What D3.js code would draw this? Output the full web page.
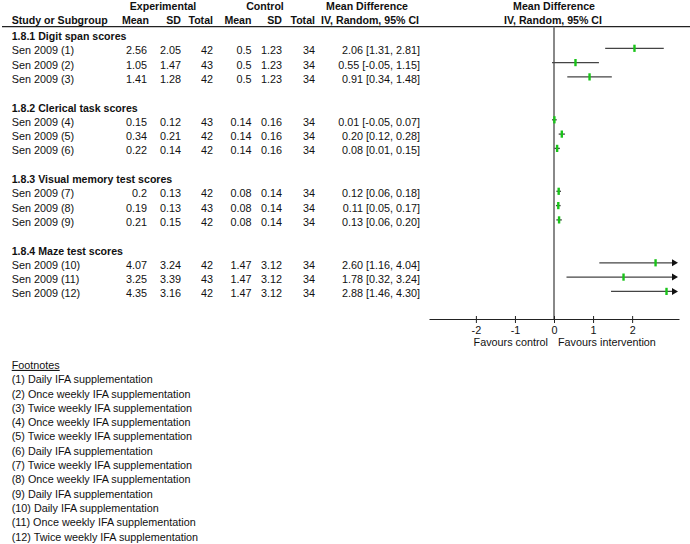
<!DOCTYPE html>
<html>
<head>
<meta charset="utf-8">
<script src="https://cdn.jsdelivr.net/npm/d3@7"></script>
<style>
  html, body { margin: 0; padding: 0; background: #fff; }
  svg { display: block; }
  text { font-family: "Liberation Sans", Arial, sans-serif; fill: #111; }
</style>
</head>
<body>
<svg id="chart" width="690" height="544"></svg>
<script>
// ---------------- data ----------------
const groups = ["1.8.1 Digit span scores", "1.8.2 Clerical task scores", "1.8.3 Visual memory test scores", "1.8.4 Maze test scores"];
const studies = ["Sen 2009 (1)", "Sen 2009 (2)", "Sen 2009 (3)", "Sen 2009 (4)", "Sen 2009 (5)", "Sen 2009 (6)",
                 "Sen 2009 (7)", "Sen 2009 (8)", "Sen 2009 (9)", "Sen 2009 (10)", "Sen 2009 (11)", "Sen 2009 (12)"];
const studyGroup = [0, 0, 0, 1, 1, 1, 2, 2, 2, 3, 3, 3];
const expMean = [2.56, 1.05, 1.41, 0.15, 0.34, 0.22, 0.2, 0.19, 0.21, 4.07, 3.25, 4.35];
const expSD = [2.05, 1.47, 1.28, 0.12, 0.21, 0.14, 0.13, 0.13, 0.15, 3.24, 3.39, 3.16];
const expN = [42, 43, 42, 43, 42, 42, 42, 43, 42, 42, 43, 42];
const ctrlMean = [0.5, 0.5, 0.5, 0.14, 0.14, 0.14, 0.08, 0.08, 0.08, 1.47, 1.47, 1.47];
const ctrlSD = [1.23, 1.23, 1.23, 0.16, 0.16, 0.16, 0.14, 0.14, 0.14, 3.12, 3.12, 3.12];
const ctrlN = [34, 34, 34, 34, 34, 34, 34, 34, 34, 34, 34, 34];
const md = [2.06, 0.55, 0.91, 0.01, 0.20, 0.08, 0.12, 0.11, 0.13, 2.60, 1.78, 2.88];
const ciLow = [1.31, -0.05, 0.34, -0.05, 0.12, 0.01, 0.06, 0.05, 0.06, 1.16, 0.32, 1.46];
const ciHigh = [2.81, 1.15, 1.48, 0.07, 0.28, 0.15, 0.18, 0.17, 0.20, 4.04, 3.24, 4.30];
const tickValues = [-2, -1, 0, 1, 2];
const axisDomain = [-3.2, 3.2];
const favoursLeft = "Favours control";
const favoursRight = "Favours intervention";
const footnotes = ["(1) Daily IFA supplementation", "(2) Once weekly IFA supplementation", "(3) Twice weekly IFA supplementation",
  "(4) Once weekly IFA supplementation", "(5) Twice weekly IFA supplementation", "(6) Daily IFA supplementation",
  "(7) Twice weekly IFA supplementation", "(8) Once weekly IFA supplementation", "(9) Daily IFA supplementation",
  "(10) Daily IFA supplementation", "(11) Once weekly IFA supplementation", "(12) Twice weekly IFA supplementation"];

// ---------------- layout ----------------
const svg = d3.select("#chart");
const FS = 10.8, BFS = 10.6;
const pitch = 14.3, row0 = 48.3;
const slotY = s => row0 + s * pitch;                 // line centre for slot
const studySlot = (i) => studyGroup[i] * 5 + (i - studyGroup[i] * 3);
const x = d3.scaleLinear().domain(axisDomain).range([429, 679]);
const axisY = 319;
const leftX = 11.7;
const cols = { em: 147, esd: 181, en: 213, cm: 251.5, csd: 282, cn: 315, ci: 420 };

function txt(xp, yp, s, opts = {}) {
  return svg.append("text").attr("x", xp).attr("y", yp)
    .attr("font-size", opts.bold ? BFS : FS)
    .attr("font-weight", opts.bold ? "bold" : "normal")
    .attr("text-anchor", opts.anchor || "start")
    .text(s);
}

// header
const h1 = 10, h2 = 23.5;
txt(163, h1, "Experimental", { bold: true, anchor: "middle" });
txt(265, h1, "Control", { bold: true, anchor: "middle" });
txt(367, h1, "Mean Difference", { bold: true, anchor: "middle" });
txt(554, h1, "Mean Difference", { bold: true, anchor: "middle" });
txt(leftX, h2, "Study or Subgroup", { bold: true });
txt(cols.em + 2, h2, "Mean", { bold: true, anchor: "end" });
txt(cols.esd, h2, "SD", { bold: true, anchor: "end" });
txt(cols.en, h2, "Total", { bold: true, anchor: "end" });
txt(cols.cm, h2, "Mean", { bold: true, anchor: "end" });
txt(cols.csd, h2, "SD", { bold: true, anchor: "end" });
txt(cols.cn, h2, "Total", { bold: true, anchor: "end" });
txt(cols.ci - 1, h2, "IV, Random, 95% CI", { bold: true, anchor: "end" });
txt(553, h2, "IV, Random, 95% CI", { bold: true, anchor: "middle" });

svg.append("line").attr("x1", 2).attr("x2", 690).attr("y1", 26.7).attr("y2", 26.7)
  .attr("stroke", "#222").attr("stroke-width", 1.3);

// zero line
svg.append("line").attr("x1", x(0)).attr("x2", x(0)).attr("y1", 26.7).attr("y2", axisY)
  .attr("stroke", "#888").attr("stroke-width", 2);

// group headers
groups.forEach((g, gi) => {
  txt(leftX, slotY(gi * 5 - 1) + 6, g, { bold: true });
});

// study rows
const fmt2 = v => v.toFixed(2);
studies.forEach((s, i) => {
  const y = slotY(studySlot(i));
  const ty = y + 6;
  txt(leftX, ty, s);
  txt(cols.em, ty, String(expMean[i]), { anchor: "end" });
  txt(cols.esd, ty, String(expSD[i]), { anchor: "end" });
  txt(cols.en, ty, String(expN[i]), { anchor: "end" });
  txt(cols.cm, ty, String(ctrlMean[i]), { anchor: "end" });
  txt(cols.csd, ty, String(ctrlSD[i]), { anchor: "end" });
  txt(cols.cn, ty, String(ctrlN[i]), { anchor: "end" });
  txt(cols.ci, ty, `${fmt2(md[i])} [${fmt2(ciLow[i])}, ${fmt2(ciHigh[i])}]`, { anchor: "end" });

  // CI line
  const lo = Math.max(ciLow[i], axisDomain[0]);
  const hiClipped = ciHigh[i] > axisDomain[1];
  const hiX = hiClipped ? x(axisDomain[1]) - 1 : x(ciHigh[i]);
  svg.append("line").attr("x1", x(lo)).attr("x2", hiClipped ? hiX - 4 : hiX)
    .attr("y1", y).attr("y2", y).attr("stroke", "#444").attr("stroke-width", 1.3);
  if (hiClipped) {
    svg.append("path")
      .attr("d", `M${hiX},${y} L${hiX - 6},${y - 3.5} L${hiX - 6},${y + 3.5} Z`)
      .attr("fill", "#111");
  }
  // point estimate marker
  svg.append("rect").attr("x", x(md[i]) - 1.2).attr("y", y - 3.6)
    .attr("width", 2.4).attr("height", 7.2).attr("fill", "#19c419");
});

// axis
const axis = d3.axisBottom(x).tickValues(tickValues).tickFormat(d => String(d)).tickSize(4).tickSizeOuter(0);
const ag = svg.append("g").attr("transform", `translate(0,${axisY})`).call(axis);
ag.select(".domain").attr("stroke", "#222").attr("stroke-width", 1.2);
ag.selectAll(".tick line").attr("y1", -3).attr("y2", 4).attr("stroke", "#222");
ag.selectAll(".tick text").attr("y", 7).attr("dy", "0.71em")
  .attr("font-size", FS).attr("font-family", "Liberation Sans, Arial, sans-serif").attr("fill", "#111");

txt(548, 345.5, favoursLeft, { anchor: "end" });
txt(558, 345.5, favoursRight);

// footnotes
txt(leftX, slotY(22) + 6, "Footnotes").attr("text-decoration", "underline");
footnotes.forEach((f, k) => txt(leftX, slotY(23 + k) + 6, f));
</script>
</body>
</html>
